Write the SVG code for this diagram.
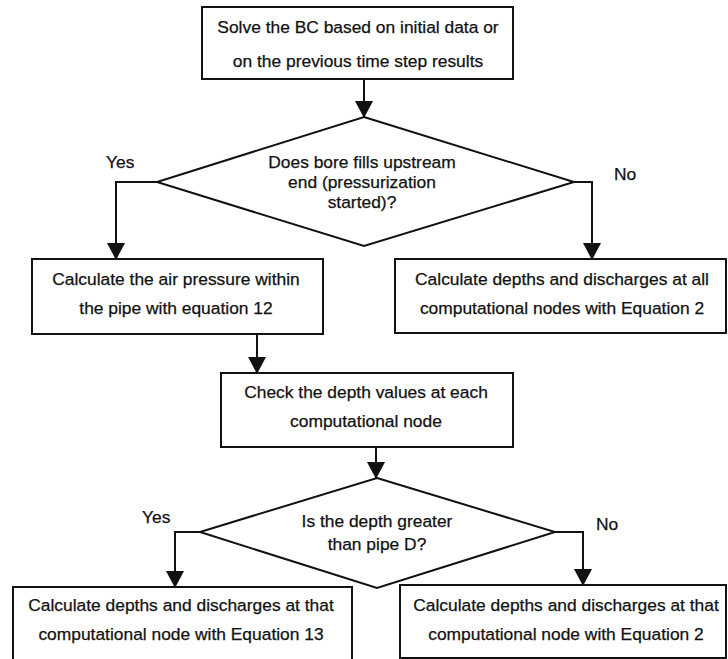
<svg xmlns="http://www.w3.org/2000/svg" width="728" height="659" viewBox="0 0 728 659">
<style>
.box{fill:#fff;stroke:#111;stroke-width:2}
.dia{fill:#fff;stroke:#111;stroke-width:2}
.t{font-family:"Liberation Sans",Arial,sans-serif;font-size:17.4px;fill:#111;stroke:#111;stroke-width:0.25;text-anchor:middle}
.lbl{font-family:"Liberation Sans",Arial,sans-serif;font-size:17.4px;fill:#111;stroke:#111;stroke-width:0.25;text-anchor:start}
.c{fill:none;stroke:#111;stroke-width:2}
</style>
<defs>
<marker id="ah" markerUnits="userSpaceOnUse" markerWidth="17" markerHeight="18" viewBox="0 0 17 18" refX="16" refY="9" orient="auto">
<path d="M0,0 L17,9 L0,18 z" fill="#111"/>
</marker>
</defs>
<rect width="728" height="659" fill="#fff"/>
<g id="connectors">
<path class="c" d="M364,79 V117" marker-end="url(#ah)"/>
<path class="c" d="M157,182 H116 V259" marker-end="url(#ah)"/>
<path class="c" d="M574,182 H592 V259" marker-end="url(#ah)"/>
<path class="c" d="M257,334 V373" marker-end="url(#ah)"/>
<path class="c" d="M376,447 V478" marker-end="url(#ah)"/>
<path class="c" d="M200,532 H175 V587" marker-end="url(#ah)"/>
<path class="c" d="M555,532 H583 V585" marker-end="url(#ah)"/>
<text class="lbl" x="106" y="168">Yes</text>
<text class="lbl" x="614" y="180">No</text>
<text class="lbl" x="142" y="523">Yes</text>
<text class="lbl" x="596" y="530">No</text>
</g>
<g id="n1">
<rect class="box" x="202" y="7" width="311" height="72"/>
<text class="t" x="358" y="33">Solve the BC based on initial data or</text>
<text class="t" x="358" y="67">on the previous time step results</text>
</g>
<g id="d1">
<polygon class="dia" points="364,117 574,182 364,246 157,182"/>
<text class="t" x="362" y="168">Does bore fills upstream</text>
<text class="t" x="362" y="188">end (pressurization</text>
<text class="t" x="362" y="208">started)?</text>
</g>
<g id="n2">
<rect class="box" x="32" y="259" width="291" height="75"/>
<text class="t" x="176" y="285">Calculate the air pressure within</text>
<text class="t" x="176" y="314">the pipe with equation 12</text>
</g>
<g id="n3">
<rect class="box" x="395" y="259" width="331" height="74"/>
<text class="t" x="562" y="285">Calculate depths and discharges at all</text>
<text class="t" x="562" y="314">computational nodes with Equation 2</text>
</g>
<g id="n4">
<rect class="box" x="221" y="373" width="292" height="74"/>
<text class="t" x="366" y="398">Check the depth values at each</text>
<text class="t" x="366" y="427">computational node</text>
</g>
<g id="d2">
<polygon class="dia" points="377,478 555,532 377,588 200,532"/>
<text class="t" x="377" y="527">Is the depth greater</text>
<text class="t" x="377" y="550">than pipe D?</text>
</g>
<g id="n5">
<rect class="box" x="13" y="587" width="339" height="80"/>
<text class="t" x="181" y="611">Calculate depths and discharges at that</text>
<text class="t" x="181" y="640">computational node with Equation 13</text>
</g>
<g id="n6">
<rect class="box" x="400" y="585" width="326" height="73"/>
<text class="t" x="566" y="611">Calculate depths and discharges at that</text>
<text class="t" x="566" y="640">computational node with Equation 2</text>
</g>
</svg>
